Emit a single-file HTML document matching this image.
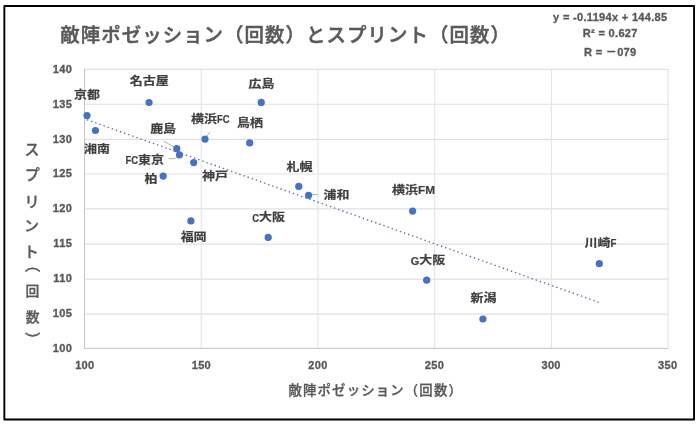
<!DOCTYPE html>
<html lang="ja"><head><meta charset="utf-8"><title>敵陣ポゼッション（回数）とスプリント（回数）</title>
<style>
html,body{margin:0;padding:0;background:#fff;}
body{width:700px;height:425px;overflow:hidden;}
svg{display:block;}
text{font-family:"Liberation Sans","Noto Sans CJK JP",sans-serif;font-weight:700;}
.t{fill:#595959;font-weight:500;stroke:#595959;}
.l{fill:#404040;font-size:12.3px;stroke:#404040;stroke-width:0.22px;}
.e{font-size:12px;}
.a{fill:#595959;font-size:11.05px;stroke:#595959;stroke-width:0.32px;letter-spacing:0.3px;}
</style></head><body>
<svg width="700" height="425" viewBox="0 0 700 425">
<rect x="0" y="0" width="700" height="425" fill="#fff"/>
<rect x="4.35" y="6.05" width="689.7" height="413.4" fill="none" stroke="#000" stroke-width="1.9" stroke-linejoin="round"/>
<line x1="84.50" y1="314.12" x2="668.60" y2="314.12" stroke="#e1e1e1" stroke-width="1.15"/>
<line x1="84.50" y1="279.15" x2="668.60" y2="279.15" stroke="#e1e1e1" stroke-width="1.15"/>
<line x1="84.50" y1="244.12" x2="668.60" y2="244.12" stroke="#e1e1e1" stroke-width="1.15"/>
<line x1="84.50" y1="208.90" x2="668.60" y2="208.90" stroke="#e1e1e1" stroke-width="1.15"/>
<line x1="84.50" y1="174.02" x2="668.60" y2="174.02" stroke="#e1e1e1" stroke-width="1.15"/>
<line x1="84.50" y1="139.35" x2="668.60" y2="139.35" stroke="#e1e1e1" stroke-width="1.15"/>
<line x1="84.50" y1="104.27" x2="668.60" y2="104.27" stroke="#e1e1e1" stroke-width="1.15"/>
<line x1="84.50" y1="69.40" x2="668.60" y2="69.40" stroke="#e1e1e1" stroke-width="1.15"/>
<line x1="201.22" y1="68.90" x2="201.22" y2="348.40" stroke="#e4e4e4" stroke-width="1.1"/>
<line x1="317.94" y1="68.90" x2="317.94" y2="348.40" stroke="#e4e4e4" stroke-width="1.1"/>
<line x1="434.66" y1="68.90" x2="434.66" y2="348.40" stroke="#e4e4e4" stroke-width="1.1"/>
<line x1="551.38" y1="68.90" x2="551.38" y2="348.40" stroke="#e4e4e4" stroke-width="1.1"/>
<line x1="668.10" y1="68.90" x2="668.10" y2="348.40" stroke="#e4e4e4" stroke-width="1.1"/>
<line x1="84.00" y1="348.40" x2="668.10" y2="348.40" stroke="#c4c4c4" stroke-width="1"/>
<line x1="84.50" y1="68.90" x2="84.50" y2="348.90" stroke="#c4c4c4" stroke-width="1"/>
<text class="a" x="72.1" y="351.80" text-anchor="end">100</text>
<text class="a" x="72.1" y="316.92" text-anchor="end">105</text>
<text class="a" x="72.1" y="282.05" text-anchor="end">110</text>
<text class="a" x="72.1" y="247.17" text-anchor="end">115</text>
<text class="a" x="72.1" y="212.30" text-anchor="end">120</text>
<text class="a" x="72.1" y="177.42" text-anchor="end">125</text>
<text class="a" x="72.1" y="142.55" text-anchor="end">130</text>
<text class="a" x="72.1" y="107.67" text-anchor="end">135</text>
<text class="a" x="72.1" y="72.80" text-anchor="end">140</text>
<text class="a" x="84.80" y="368.8" text-anchor="middle">100</text>
<text class="a" x="201.38" y="368.8" text-anchor="middle">150</text>
<text class="a" x="317.96" y="368.8" text-anchor="middle">200</text>
<text class="a" x="434.54" y="368.8" text-anchor="middle">250</text>
<text class="a" x="551.12" y="368.8" text-anchor="middle">300</text>
<text class="a" x="667.70" y="368.8" text-anchor="middle">350</text>
<line x1="87.00" y1="119.74" x2="599.50" y2="302.58" stroke="#5a74a8" stroke-width="1.4" stroke-dasharray="1.4 2.97"/>
<g stroke="#b2b2b2" stroke-width="1" fill="none">
<path d="M209.95 131.8L206.4 137.2"/>
<path d="M163.4 141.0L174.7 147.3"/>
<path d="M168.8 158.7L174.9 158.7L177.3 156.8"/>
<path d="M312.2 194.6L318.1 194.6"/>
</g>
<circle cx="87.00" cy="115.60" r="3.6" fill="#4472c4"/>
<circle cx="95.45" cy="130.50" r="3.6" fill="#4472c4"/>
<circle cx="149.06" cy="102.50" r="3.6" fill="#4472c4"/>
<circle cx="261.25" cy="102.40" r="3.6" fill="#4472c4"/>
<circle cx="205.00" cy="139.10" r="3.6" fill="#4472c4"/>
<circle cx="249.70" cy="142.90" r="3.6" fill="#4472c4"/>
<circle cx="176.80" cy="148.70" r="3.6" fill="#4472c4"/>
<circle cx="179.50" cy="154.80" r="3.6" fill="#4472c4"/>
<circle cx="193.70" cy="162.60" r="3.6" fill="#4472c4"/>
<circle cx="163.15" cy="176.10" r="3.6" fill="#4472c4"/>
<circle cx="298.76" cy="186.40" r="3.6" fill="#4472c4"/>
<circle cx="308.60" cy="195.30" r="3.6" fill="#4472c4"/>
<circle cx="190.90" cy="220.90" r="3.6" fill="#4472c4"/>
<circle cx="268.20" cy="237.40" r="3.6" fill="#4472c4"/>
<circle cx="412.60" cy="211.10" r="3.6" fill="#4472c4"/>
<circle cx="426.70" cy="280.20" r="3.6" fill="#4472c4"/>
<circle cx="482.90" cy="319.00" r="3.6" fill="#4472c4"/>
<circle cx="599.30" cy="263.70" r="3.6" fill="#4472c4"/>
<text class="l" transform="translate(87.00 99.25) scale(1.055 0.93)" text-anchor="middle">京都</text>
<text class="l" transform="translate(97.00 153.15) scale(1.055 0.93)" text-anchor="middle">湘南</text>
<text class="l" transform="translate(149.30 84.70) scale(1.055 0.93)" text-anchor="middle">名古屋</text>
<text class="l" transform="translate(261.40 87.65) scale(1.055 0.93)" text-anchor="middle">広島</text>
<text class="l" transform="translate(210.40 122.70) scale(1.055 0.93)" text-anchor="middle">横浜<tspan class="e" dy="0.5" textLength="12.0" lengthAdjust="spacingAndGlyphs">FC</tspan></text>
<text class="l" transform="translate(250.00 127.05) scale(1.055 0.93)" text-anchor="middle">鳥栖</text>
<text class="l" transform="translate(163.10 133.20) scale(1.055 0.93)" text-anchor="middle">鹿島</text>
<text class="l" transform="translate(144.70 163.50) scale(1.055 0.93)" text-anchor="middle"><tspan class="e" dy="0.5" textLength="12.0" lengthAdjust="spacingAndGlyphs">FC</tspan><tspan dy="-0.5">東京</tspan></text>
<text class="l" transform="translate(215.00 179.85) scale(1.055 0.93)" text-anchor="middle">神戸</text>
<text class="l" transform="translate(150.90 182.70) scale(1.055 0.93)" text-anchor="middle">柏</text>
<text class="l" transform="translate(299.54 170.58) scale(1.055 0.93)" text-anchor="middle">札幌</text>
<text class="l" transform="translate(336.50 199.15) scale(1.055 0.93)" text-anchor="middle">浦和</text>
<text class="l" transform="translate(193.60 241.25) scale(1.055 0.93)" text-anchor="middle">福岡</text>
<text class="l" transform="translate(268.60 221.10) scale(1.055 0.93)" text-anchor="middle"><tspan class="e" dy="0.5" textLength="6.5" lengthAdjust="spacingAndGlyphs">C</tspan><tspan dy="-0.5">大阪</tspan></text>
<text class="l" transform="translate(413.50 193.95) scale(1.055 0.93)" text-anchor="middle">横浜<tspan class="e" dy="0.5" textLength="16.1" lengthAdjust="spacingAndGlyphs">FM</tspan></text>
<text class="l" transform="translate(427.90 264.30) scale(1.055 0.93)" text-anchor="middle"><tspan class="e" dy="0.5" textLength="8.0" lengthAdjust="spacingAndGlyphs">G</tspan><tspan dy="-0.5">大阪</tspan></text>
<text class="l" transform="translate(483.40 301.95) scale(1.055 0.93)" text-anchor="middle">新潟</text>
<text class="l" transform="translate(600.40 246.75) scale(1.055 0.93)" text-anchor="middle">川崎<tspan class="e" dy="0.5" textLength="5.6" lengthAdjust="spacingAndGlyphs">F</tspan></text>
<text class="t" x="60.2" y="42.0" font-size="19.4" stroke-width="0.5" style="letter-spacing:1.1px">敵陣ポゼッション（回数）とスプリント（回数）</text>
<text class="t" x="288.5" y="394.7" font-size="13.4" stroke-width="0.3" style="letter-spacing:1.15px">敵陣ポゼッション（回数）</text>
<text class="t" x="32.00" y="154.90" font-size="15.0" stroke-width="0.3" text-anchor="middle">ス</text>
<text class="t" x="32.30" y="180.40" font-size="15.0" stroke-width="0.3" text-anchor="middle">プ</text>
<text class="t" x="32.00" y="206.50" font-size="15.0" stroke-width="0.3" text-anchor="middle">リ</text>
<text class="t" x="31.50" y="231.20" font-size="15.0" stroke-width="0.3" text-anchor="middle">ン</text>
<text class="t" x="31.30" y="257.40" font-size="15.0" stroke-width="0.3" text-anchor="middle">ト</text>
<text class="t" x="31.50" y="269.90" font-size="15.4" stroke-width="0.3" text-anchor="middle" transform="rotate(90 31.50 264.90)">（</text>
<text class="t" x="32.50" y="296.40" font-size="13.8" stroke-width="0.3" text-anchor="middle">回</text>
<text class="t" x="32.70" y="322.40" font-size="13.8" stroke-width="0.3" text-anchor="middle">数</text>
<text class="t" x="32.10" y="344.50" font-size="15.4" stroke-width="0.3" text-anchor="middle" transform="rotate(90 32.10 339.50)">）</text>
<text class="a" x="610.3" y="20.6" text-anchor="middle">y = -0.1194x + 144.85</text>
<text class="a" x="610.3" y="37.4" text-anchor="middle">R² = 0.627</text>
<text class="a" x="610.3" y="55.6" text-anchor="middle">R = －079</text>
</svg></body></html>
